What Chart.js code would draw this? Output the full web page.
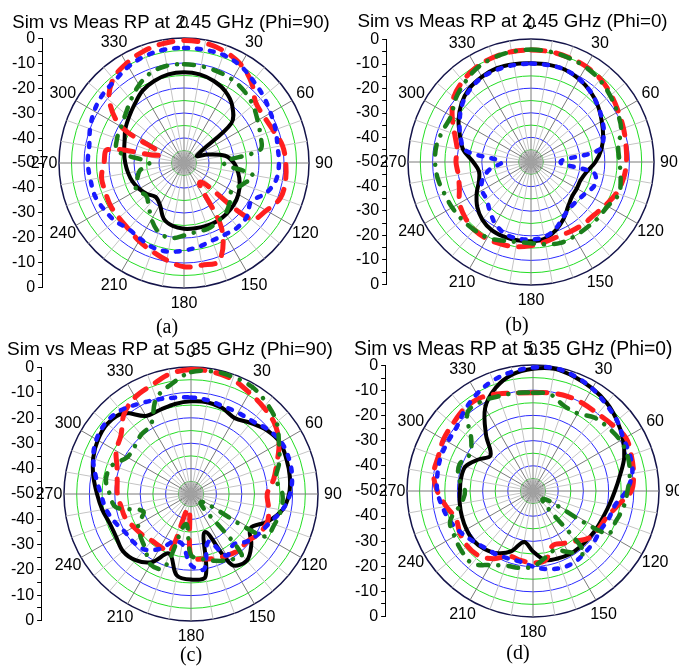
<!DOCTYPE html>
<html lang="en">
<head>
<meta charset="UTF-8" />
<title>Sim vs Meas RP</title>
<script src="https://cdn.jsdelivr.net/npm/chart.js"></script>
<style>
  body { margin: 0; background: #fff; font-family: "Liberation Sans", Arial, sans-serif; }
  #fig { position: relative; width: 679px; height: 666px; overflow: hidden; background: #fff; }
  #fig canvas { position: absolute; }
  .title { position: absolute; white-space: nowrap; line-height: 1; transform: translateX(-50%); color: #000; }
  .cap { position: absolute; font-family: "Liberation Serif", "Times New Roman", serif; font-size: 20px; line-height: 1; transform: translateX(-50%); color: #000; }
</style>
</head>
<body>
<div id="fig"></div>
<script>
// angle categories (deg, clockwise from top)
const angles = [0,10,20,30,40,50,60,70,80,90,100,110,120,130,140,150,160,170,180,190,200,210,220,230,240,250,260,270,280,290,300,310,320,330,340,350];
const angleLabels = angles.map(a => a % 30 === 0 ? String(a) : '');
// left axis labels, top to bottom
const axisLabels = ['0','-10','-20','-30','-40','-50','-40','-30','-20','-10','0'];

// (a) 2.45 GHz, Phi=90
const blackA = [-13.7,-14,-15.1,-16.9,-20,-25.3,-44,-40,-33.3,-30,-28,-26.3,-24.9,-24,-23.5,-23.2,-23.3,-23.5,-23.7,-24.4,-26.3,-30.7,-32.3,-30.7,-29.3,-28.1,-27.3,-26.5,-25.7,-24.7,-22.9,-21.3,-19.3,-16.7,-15.1,-14];
const redA   = [-1,-1.3,-2.5,-4.5,-8,-12.5,-13,-12,-10,-9.3,-8.8,-9,-12,-15,-40,-20,-8.5,-8.5,-8.5,-10.5,-12.5,-14,-15.5,-16,-16,-16.5,-16.5,-18,-19,-40,-21,-11,-6,-4,-2.5,-1.5];
const blueA  = [-4,-4,-4,-5,-7,-8.5,-10,-11,-12,-12,-12.5,-15,-19,-17,-16.5,-17,-17,-16,-15,-14,-14,-15,-15.5,-14,-13,-12,-12,-11.5,-11.5,-10,-8.5,-7.5,-7,-5.5,-4.5,-4];
const greenA = [-10.5,-10.7,-11,-11.5,-12.5,-14,-16,-17.5,-19,-34,-22,-25,-28,-26,-24,-23,-22,-22,-21,-19.5,-20.5,-24,-28,-30,-28,-30,-32,-36,-23,-21.5,-21,-19.5,-17,-14,-11.5,-10.5];

// (b) 2.45 GHz, Phi=0
const blackB = [-9.9,-9.8,-10,-11,-12.5,-14.5,-16.8,-18.8,-21,-23.8,-27,-28.5,-28.5,-28.2,-26.5,-23.4,-20.5,-18.3,-17.8,-17.7,-17.7,-18,-19.3,-21.5,-24.5,-27.5,-28.5,-26.5,-22.1,-19.3,-16,-13.1,-11,-10,-9.4,-9.6];
const redB   = [-4.5,-4.5,-4.8,-5.2,-6,-7.5,-9,-10,-10.8,-11.2,-11.8,-13,-15,-16.5,-17,-17.5,-17.8,-17,-16,-15,-14.5,-14,-14,-15,-16.5,-19,-20,-19.5,-19.5,-17,-13,-9,-7,-5.5,-4.8,-4.5];
const blueB  = [-10,-10,-10,-11,-12.5,-14.5,-16.5,-18.5,-22,-38,-24,-22.5,-24.5,-25.5,-25.5,-24,-21,-19,-18.5,-18.4,-19,-21,-24,-26.4,-27,-29,-33,-38,-23,-19.5,-16.5,-13.5,-11.5,-10.3,-10,-10];
const greenB = [-4.3,-4.5,-5,-5.5,-6.5,-8,-9.5,-11,-14,-14,-13,-12,-14,-14.5,-15,-15,-15,-16,-17,-17,-16,-14.5,-14,-13.5,-13,-12.5,-11.5,-11,-11,-12,-12.5,-10,-8,-6,-5,-4.5];

// (c) 5.35 GHz, Phi=90
const blackC = [-13.5,-13.3,-14,-15.5,-13.5,-11,-9.5,-10,-10.5,-11.4,-13.5,-18,-23,-19,-15.8,-17.8,-34,-17,-16.3,-17.5,-25,-19,-16,-15,-16,-16,-14.5,-13,-11,-9,-7.6,-7,-8.5,-14.5,-14.7,-14];
const redC   = [-1,-1.2,-2,-4,-5.5,-7,-10,-14,-17,-20,-19,-18,-19,-21,-21,-22,-23,-24,-25,-44,-26,-26,-26,-25,-24,-22.5,-22,-21,-20.5,-19,-16,-14,-9,-6,-4.5,-2];
const blueC  = [-12,-12.5,-13.2,-13,-12.5,-10.5,-9,-9,-9.6,-11,-13.5,-17,-19,-21,-24,-22,-30,-20,-22,-30,-30,-25,-21.5,-20.5,-20,-18,-16,-14.5,-12,-9,-7,-6.3,-7,-9,-10.5,-11.5];
const greenC = [-2,-1,-1,-1.5,-3.5,-6,-10,-13,-16,-14,-14,-15,-16.5,-45,-19,-20,-22,-24,-26,-38,-19,-18,-22,-24,-26,-30,-20,-18,-16,-17,-21,-21,-19.5,-18.5,-10,-6];

// (d) 5.35 GHz, Phi=0
const blackD = [-1.5,-0.8,-1.8,-3,-4.4,-6.5,-8.8,-11.5,-15,-17.5,-19.2,-20.3,-20.7,-21,-21,-21,-21.5,-22.2,-26,-29.5,-24.5,-21.5,-20,-19.2,-19.5,-20,-20.5,-21,-21,-21.5,-25,-28,-21,-12,-6.5,-3];
const redD   = [-11,-10.5,-10,-10,-10,-9,-7.5,-8.5,-9.5,-11,-16,-19,-20,-21,-24,-26,-27,-22,-21.5,-22,-22.5,-19,-16.5,-16,-16.5,-17.5,-15,-12,-10,-10,-9,-8.5,-7.5,-7.5,-9,-10.5];
const blueD  = [-1,-0.5,-1.5,-3,-5,-6.5,-8.5,-9,-10,-13,-17,-18,-19,-18.5,-18,-17.3,-17.5,-18.5,-20,-21.5,-21.5,-21,-20.5,-19,-17,-15,-13.5,-12,-11.5,-11,-11,-10.5,-8,-5.5,-3.4,-2];
const greenD = [-11,-11,-14,-14.5,-12,-11,-10,-10,-11,-12.5,-13.5,-15,-16,-45,-18,-22,-25,-23,-20,-19,-18.5,-16,-12.5,-13,-14,-15,-21,-23,-20,-19,-21,-18,-9.5,-9,-10,-10.5];

const FONT = '"Liberation Sans", Arial, sans-serif';
const PAD = 40;

const panels = [
  { title: 'Sim vs Meas RP at 2.45 GHz (Phi=90)', cap: '(a)', black: blackA, red: redA, blue: blueA, green: greenA,
    cx: 184, cy: 163, R: 125, axisX: 39, tx: 171, ty: 12.5, fs: 18.6, capX: 167, capY: 316 },
  { title: 'Sim vs Meas RP at 2.45 GHz (Phi=0)', cap: '(b)', black: blackB, red: redB, blue: blueB, green: greenB,
    cx: 531, cy: 162, R: 123, axisX: 383, tx: 512.5, ty: 11.5, fs: 18.8, capX: 517, capY: 314 },
  { title: 'Sim vs Meas RP at 5.35 GHz (Phi=90)', cap: '(c)', black: blackC, red: redC, blue: blueC, green: greenC,
    cx: 191, cy: 494, R: 127, axisX: 38, tx: 170, ty: 338.8, fs: 19.1, capX: 191, capY: 644 },
  { title: 'Sim vs Meas RP at 5.35 GHz (Phi=0)', cap: '(d)', black: blackD, red: redD, blue: blueD, green: greenD,
    cx: 533, cy: 491, R: 126, axisX: 382, tx: 513.3, ty: 338.6, fs: 19.3, capX: 518, capY: 642 }
];

// angle labels + dense spokes in the middle
const polarDecor = {
  id: 'polarDecor',
  beforeDatasetsDraw(chart) {
    const r = chart.scales.r, ctx = chart.ctx;
    const inner = r.getDistanceFromCenterForValue(-45);
    ctx.save();
    ctx.strokeStyle = '#a0a0a0';
    ctx.lineWidth = 1;
    for (let i = 0; i < angles.length; i++) {
      const p = r.getPointPosition(i + 0.5, inner);
      ctx.beginPath(); ctx.moveTo(r.xCenter, r.yCenter); ctx.lineTo(p.x, p.y); ctx.stroke();
    }
    ctx.restore();
  },
  afterDraw(chart) {
    const r = chart.scales.r, ctx = chart.ctx;
    ctx.save();
    ctx.font = '16px ' + FONT;
    ctx.fillStyle = '#000';
    ctx.textAlign = 'center';
    ctx.textBaseline = 'middle';
    angleLabels.forEach((t, i) => {
      if (!t) return;
      const p = r.getPointPosition(i, r.drawingArea + 15);
      ctx.fillText(t, p.x, p.y + 1);
    });
    ctx.restore();
  }
};

const fig = document.getElementById('fig');

function addCanvas(left, top, w, h) {
  const c = document.createElement('canvas');
  c.width = w; c.height = h;
  c.style.left = left + 'px'; c.style.top = top + 'px';
  fig.appendChild(c);
  return c;
}

function line(data, color, width, dash) {
  return { data, borderColor: color, borderWidth: width, borderDash: dash, borderCapStyle: dash.length ? 'round' : 'butt',
           fill: false, pointRadius: 0, pointHitRadius: 0, tension: 0.35 };
}

panels.forEach(p => {
  // left dB axis (canvas wide enough so the label box is not squeezed)
  const axTop = p.cy - p.R - 12;
  const ax = addCanvas(p.axisX - 30, axTop, 120, 2 * p.R + 24);
  new Chart(ax, {
    type: 'scatter',
    data: { datasets: [] },
    options: {
      responsive: false, animation: false,
      layout: { padding: { left: 0, right: 0, top: 12, bottom: 12 } },
      plugins: { legend: { display: false }, tooltip: { enabled: false } },
      scales: {
        x: { display: false },
        y: {
          position: 'left', min: -50, max: 50,
          ticks: { stepSize: 5, autoSkip: false, padding: 3, color: '#000', font: { size: 16, family: FONT },
                   callback: v => v % 10 === 0 ? axisLabels[(50 - v) / 10] : '' },
          grid: { drawOnChartArea: false, tickLength: 4, color: '#000', tickColor: '#000' },
          border: { color: '#000', width: 1 }
        }
      }
    }
  });

  // polar plot
  const size = 2 * p.R + 2 * PAD;
  const cv = addCanvas(p.cx - p.R - PAD, p.cy - p.R - PAD, size, size);
  new Chart(cv, {
    type: 'radar',
    data: {
      labels: angles,
      datasets: [
        line(p.green, '#1b7d1b', 4.5, [10, 10, 0.1, 10]),
        line(p.blue, '#1a1aff', 4.5, [4, 9]),
        line(p.red, '#ff1f1f', 5, [14, 11]),
        line(p.black, '#000000', 4, [])
      ]
    },
    options: {
      responsive: false, animation: false,
      layout: { padding: PAD },
      plugins: { legend: { display: false }, tooltip: { enabled: false } },
      scales: {
        r: {
          min: -50, max: 0, startAngle: 0,
          ticks: { display: false, stepSize: 5 },
          pointLabels: { display: false },
          grid: {
            circular: true,
            color: ctx => ctx.tick.value === 0 ? '#14144a' : (ctx.tick.value % 10 === 0 ? '#2a2aff' : '#22dd22'),
            lineWidth: ctx => ctx.tick.value === 0 ? 1.5 : 1
          },
          angleLines: { color: ctx => ctx.index % 3 === 0 ? '#7a7a7a' : '#c4c4c4', lineWidth: 1 }
        }
      }
    },
    plugins: [polarDecor]
  });

  const t = document.createElement('div');
  t.className = 'title';
  t.textContent = p.title;
  t.style.left = p.tx + 'px'; t.style.top = p.ty + 'px'; t.style.fontSize = p.fs + 'px';
  fig.appendChild(t);

  const c = document.createElement('div');
  c.className = 'cap';
  c.textContent = p.cap;
  c.style.left = p.capX + 'px'; c.style.top = p.capY + 'px';
  fig.appendChild(c);
});
</script>
</body>
</html>
